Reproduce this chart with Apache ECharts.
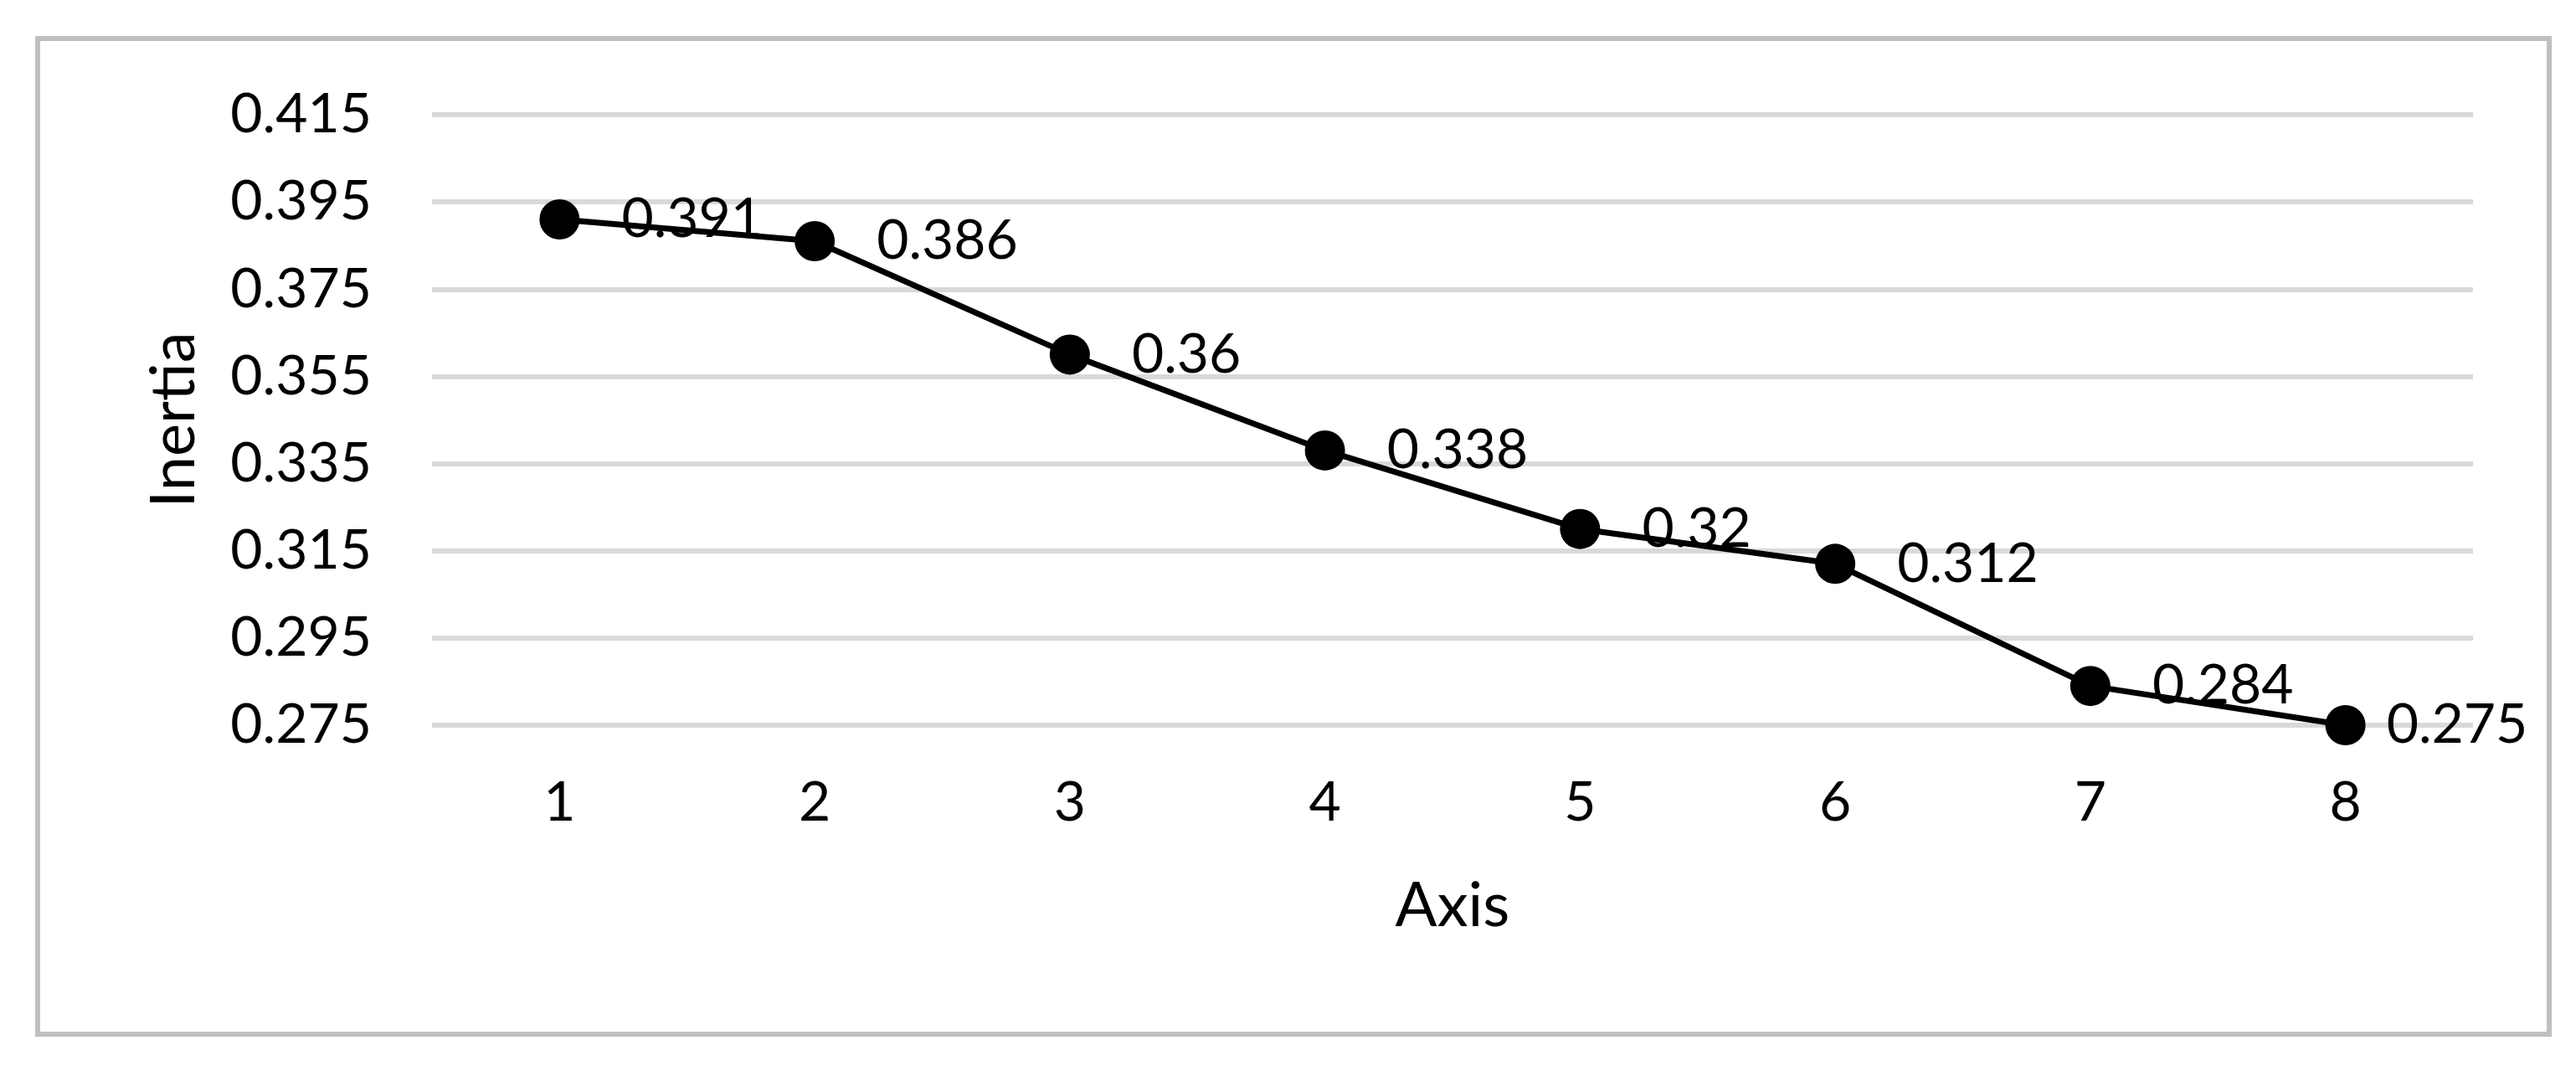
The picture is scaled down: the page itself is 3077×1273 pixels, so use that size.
<!DOCTYPE html>
<html>
<head>
<meta charset="utf-8">
<script src="https://cdn.jsdelivr.net/npm/echarts@6/dist/echarts.min.js"></script>
<style>
  html, body { margin: 0; padding: 0; background: #fff; }
  #chart { width: 3077px; height: 1273px; }
</style>
</head>
<body>
<div id="chart"></div>
<script>
// data
const axisNums = ['1', '2', '3', '4', '5', '6', '7', '8'];
const inertia = [0.391, 0.386, 0.36, 0.338, 0.32, 0.312, 0.284, 0.275];
const yMin = 0.275;
const yMax = 0.415;
const yStep = 0.02;

const font = 'Lato';
const textColor = '#000000';
const gridColor = '#d9d9d9';

// last label is pushed in a bit so it stays inside the frame
const seriesData = inertia.map((v, i) => i === inertia.length - 1
    ? { value: v, label: { distance: 25 } }
    : v);

const chart = echarts.init(document.getElementById('chart'));

const option = {
    animation: false,
    backgroundColor: '#ffffff',
    textStyle: { fontFamily: font },
    graphic: [{
        type: 'rect',
        shape: { x: 45, y: 46, width: 3000, height: 1189 },
        style: { fill: 'none', stroke: '#bfbfbf', lineWidth: 6 },
        silent: true
    }],
    grid: {
        left: 516,
        right: 123,
        top: 137,
        bottom: 407
    },
    xAxis: {
        type: 'category',
        data: axisNums,
        boundaryGap: true,
        name: 'Axis',
        nameLocation: 'middle',
        nameGap: 179,
        nameTextStyle: { fontFamily: font, fontSize: 74, color: textColor },
        axisLine: { show: false },
        axisTick: { show: false },
        axisLabel: { margin: 60, fontFamily: font, fontSize: 66, color: textColor }
    },
    yAxis: {
        type: 'value',
        min: yMin,
        max: yMax,
        interval: yStep,
        name: 'Inertia',
        nameLocation: 'middle',
        nameGap: 271,
        nameTextStyle: { fontFamily: font, fontSize: 74, color: textColor },
        axisLine: { show: false },
        axisTick: { show: false },
        axisLabel: {
            margin: 72,
            fontFamily: font,
            fontSize: 66,
            color: textColor,
            formatter: v => v.toFixed(3)
        },
        splitLine: { lineStyle: { color: gridColor, width: 6 } }
    },
    series: [{
        type: 'line',
        data: seriesData,
        symbol: 'circle',
        symbolSize: 48,
        itemStyle: { color: '#000000' },
        lineStyle: { color: '#000000', width: 7 },
        label: {
            show: true,
            position: 'right',
            distance: 50,
            fontFamily: font,
            fontSize: 66,
            color: textColor,
            formatter: p => String(p.value)
        }
    }]
};

chart.setOption(option);
</script>
</body>
</html>
